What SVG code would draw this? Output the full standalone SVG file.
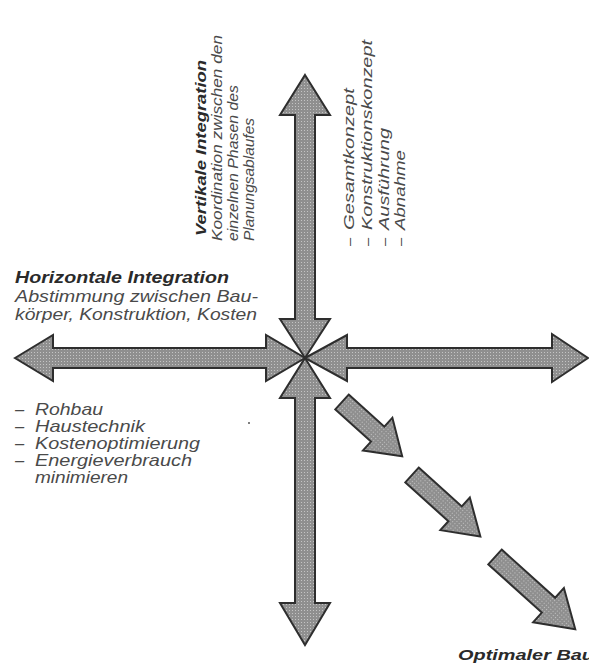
<svg xmlns="http://www.w3.org/2000/svg" width="589" height="663" viewBox="0 0 589 663">
  <defs>
    <!-- halftone screen used inside every arrow -->
    <pattern id="screen" width="3" height="3" patternUnits="userSpaceOnUse">
      <rect width="3" height="3" fill="#8f8f8f"/>
      <rect x="1" y="1" width="1" height="1" fill="#c4c4c4"/>
    </pattern>
    <style>
      .arrow { fill: url(#screen); stroke: #2e2e2e; stroke-width: 2; stroke-linejoin: miter; }
      .t { font-family: "Liberation Sans", Arial, sans-serif; font-style: italic; fill: #4a4a4a; }
      .b { font-weight: bold; fill: #2a2a2a; }
      .s16 { font-size: 16.5px; }
      .s14 { font-size: 14.5px; }
    </style>
  </defs>
  <rect width="589" height="663" fill="#ffffff"/>

  <!-- arrows -->
  <g id="connectors">
    <!-- vertical arrow, upper half -->
    <path class="arrow" d="M305,75 L330,115 L315,115 L315,319 L330,319 L305,358 L280,319 L295,319 L295,115 L280,115 Z"/>
    <!-- vertical arrow, lower half -->
    <path class="arrow" d="M305,358 L330,398 L315,398 L315,603 L330,603 L305,645 L280,603 L295,603 L295,398 L280,398 Z"/>
    <!-- horizontal arrow, left half -->
    <path class="arrow" d="M15,358 L53,335 L53,348 L266,348 L266,335 L305,358 L266,381 L266,368 L53,368 L53,381 Z"/>
    <!-- horizontal arrow, right half -->
    <path class="arrow" d="M305,358 L347,335 L347,348 L552,348 L552,334 L588,358 L552,382 L552,368 L347,368 L347,381 Z"/>
    <!-- diagonal arrows towards the optimum -->
    <path class="arrow" transform="translate(342,402) rotate(42)" d="M0,-10 L48,-10 L48,-22 L81,0 L48,22 L48,10 L0,10 Z"/>
    <path class="arrow" transform="translate(412,475) rotate(42)" d="M0,-10 L58,-10 L58,-22 L92,0 L58,22 L58,10 L0,10 Z"/>
    <path class="arrow" transform="translate(495,557) rotate(42)" d="M0,-10 L72,-10 L72,-23 L108,0 L72,23 L72,10 L0,10 Z"/>
  </g>

  <!-- vertical integration label -->
  <g id="vertikal">
    <text class="t b s14" transform="translate(206,236) rotate(-90)" textLength="176" lengthAdjust="spacingAndGlyphs">Vertikale Integration</text>
    <text class="t s14" transform="translate(222,241) rotate(-90)" textLength="206" lengthAdjust="spacingAndGlyphs">Koordination zwischen den</text>
    <text class="t s14" transform="translate(238,241) rotate(-90)" textLength="156" lengthAdjust="spacingAndGlyphs">einzelnen Phasen des</text>
    <text class="t s14" transform="translate(254,241) rotate(-90)" textLength="123" lengthAdjust="spacingAndGlyphs">Planungsablaufes</text>
  </g>

  <!-- phases list -->
  <g id="phasen">
    <text class="t s14" transform="translate(354,246) rotate(-90)">–</text>
    <text class="t s14" transform="translate(354,230) rotate(-90)" textLength="142" lengthAdjust="spacingAndGlyphs">Gesamtkonzept</text>
    <text class="t s14" transform="translate(372,246) rotate(-90)">–</text>
    <text class="t s14" transform="translate(372,230) rotate(-90)" textLength="190" lengthAdjust="spacingAndGlyphs">Konstruktionskonzept</text>
    <text class="t s14" transform="translate(389,246) rotate(-90)">–</text>
    <text class="t s14" transform="translate(389,230) rotate(-90)" textLength="102" lengthAdjust="spacingAndGlyphs">Ausführung</text>
    <text class="t s14" transform="translate(405,246) rotate(-90)">–</text>
    <text class="t s14" transform="translate(405,230) rotate(-90)" textLength="80" lengthAdjust="spacingAndGlyphs">Abnahme</text>
  </g>

  <!-- horizontal integration label -->
  <g id="horizontal">
    <text class="t b s16" x="15" y="283" textLength="214" lengthAdjust="spacingAndGlyphs">Horizontale Integration</text>
    <text class="t s16" x="15" y="302" textLength="243" lengthAdjust="spacingAndGlyphs">Abstimmung zwischen Bau-</text>
    <text class="t s16" x="15" y="320" textLength="242" lengthAdjust="spacingAndGlyphs">körper, Konstruktion, Kosten</text>
  </g>

  <!-- building tasks list -->
  <g id="aufgaben">
    <text class="t s16" x="15" y="415">–</text>
    <text class="t s16" x="35" y="415" textLength="68" lengthAdjust="spacingAndGlyphs">Rohbau</text>
    <text class="t s16" x="15" y="432">–</text>
    <text class="t s16" x="35" y="432" textLength="110" lengthAdjust="spacingAndGlyphs">Haustechnik</text>
    <text class="t s16" x="15" y="449">–</text>
    <text class="t s16" x="35" y="449" textLength="165" lengthAdjust="spacingAndGlyphs">Kostenoptimierung</text>
    <text class="t s16" x="15" y="466">–</text>
    <text class="t s16" x="35" y="466" textLength="157" lengthAdjust="spacingAndGlyphs">Energieverbrauch</text>
    <text class="t s16" x="35" y="483" textLength="93" lengthAdjust="spacingAndGlyphs">minimieren</text>
  </g>

  <!-- goal -->
  <g id="optimum">
    <text class="t b s14" x="458" y="660" textLength="136" lengthAdjust="spacingAndGlyphs">Optimaler Bau</text>
  </g>

  <circle cx="249" cy="423" r="1" fill="#555"/>
</svg>
